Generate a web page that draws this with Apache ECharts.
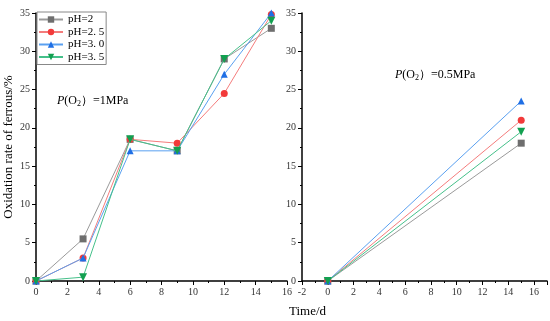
<!DOCTYPE html>
<html><head><meta charset="utf-8">
<script src="https://cdn.jsdelivr.net/npm/echarts@6/dist/echarts.min.js"></script>
<style>html,body{margin:0;padding:0;background:#fff}#c{width:550px;height:321px}</style>
</head><body><div id="c"></div>
<script>
const seriesNames = ['pH=2', 'pH=2. 5', 'pH=3. 0', 'pH=3. 5'];
const daysLeft = [0, 3, 6, 9, 12, 15];
const leftValues = [
  [0, 5.5, 18.5, 17, 29, 33],
  [0, 3, 18.5, 18, 24.5, 34.8],
  [0, 3, 17, 17, 27, 35],
  [0, 0.5, 18.5, 17, 29, 34]
];
const daysRight = [0, 15];
const rightValues = [
  [0, 18],
  [0, 21],
  [0, 23.5],
  [0, 19.5]
];
const markerColors = ['#6e6e6e', '#f23a3a', '#1f6fe5', '#12a050'];
const lineColors = ['#9a9a9a', '#f47c7c', '#5aa0f0', '#45c08a'];
const symbols = ['rect', 'circle', 'triangle', 'path://M0,0L10,0L5,9Z'];

const FF = 'Liberation Serif, Times New Roman, serif';
const chart = echarts.init(document.getElementById('c'));

function xAxis(gi, min, max, hideMax) {
  return {
    type: 'value', gridIndex: gi, min: min, max: max, interval: 2,
    axisLine: {show: true, onZero: false, lineStyle: {color: '#000', width: 1.5}},
    axisTick: {show: true, inside: false, length: 4, lineStyle: {color: '#000'}},
    minorTick: {show: true, splitNumber: 2, length: 2, lineStyle: {color: '#000'}},
    splitLine: {show: false},
    axisLabel: {fontFamily: FF, fontSize: 10, color: '#333', margin: 6, showMaxLabel: !hideMax}
  };
}
function yAxis(gi, name) {
  return {
    type: 'value', gridIndex: gi, min: 0, max: 35, interval: 5,
    name: name || '', nameLocation: 'middle', nameGap: 21,
    nameTextStyle: {fontFamily: FF, fontSize: 13, color: '#000'},
    axisLine: {show: true, onZero: false, lineStyle: {color: '#000', width: 1.5}},
    axisTick: {show: true, inside: false, length: 4, lineStyle: {color: '#000'}},
    minorTick: {show: true, splitNumber: 2, length: 2, lineStyle: {color: '#000'}},
    splitLine: {show: false},
    axisLabel: {fontFamily: FF, fontSize: 10, color: '#333', margin: 6}
  };
}

const series = [];
seriesNames.forEach((n, i) => {
  const common = {
    type: 'line', name: n, symbol: symbols[i], symbolSize: i === 3 ? 8 : 7,
    itemStyle: {color: markerColors[i]},
    lineStyle: {color: lineColors[i], width: 1},
    z: 2 + i
  };
  series.push(Object.assign({}, common, {
    xAxisIndex: 0, yAxisIndex: 0,
    data: daysLeft.map((d, k) => [d, leftValues[i][k]])
  }));
  series.push(Object.assign({}, common, {
    xAxisIndex: 1, yAxisIndex: 1,
    data: daysRight.map((d, k) => [d, rightValues[i][k]])
  }));
});

const pRich = {
  p: {fontFamily: FF, fontStyle: 'italic', fontSize: 12, color: '#000'},
  t: {fontFamily: FF, fontSize: 12, color: '#000'},
  s: {fontFamily: FF, fontSize: 8, color: '#000', padding: [6, 0, 0, 0]}
};

chart.setOption({
  animation: false,
  grid: [
    {left: 36, top: 13, width: 251, height: 268, containLabel: false},
    {left: 302, top: 13, width: 245, height: 268, containLabel: false}
  ],
  xAxis: [xAxis(0, 0, 16, false), xAxis(1, -2, 17, true)],
  yAxis: [yAxis(0, 'Oxidation rate of ferrous/%'), yAxis(1)],
  legend: {
    orient: 'vertical', left: 37, top: 12, data: seriesNames,
    itemWidth: 24, itemHeight: 8, itemGap: 1.5,
    padding: [2, 2, 2, 1],
    borderColor: '#888', borderWidth: 1, backgroundColor: '#fff',
    textStyle: {fontFamily: FF, fontSize: 11, color: '#000'}
  },
  graphic: [
    {type: 'text', left: 57, top: 95, style: {text: '{p|P}{t|(O}{s|2}{t|）=1MPa}', rich: pRich}},
    {type: 'text', left: 395, top: 69, style: {text: '{p|P}{t|(O}{s|2}{t|）=0.5MPa}', rich: pRich}},
    {type: 'text', left: 289, top: 305, style: {text: 'Time/d', fontFamily: FF, fontSize: 13, fill: '#000'}}
  ],
  series: series
});
</script></body></html>
